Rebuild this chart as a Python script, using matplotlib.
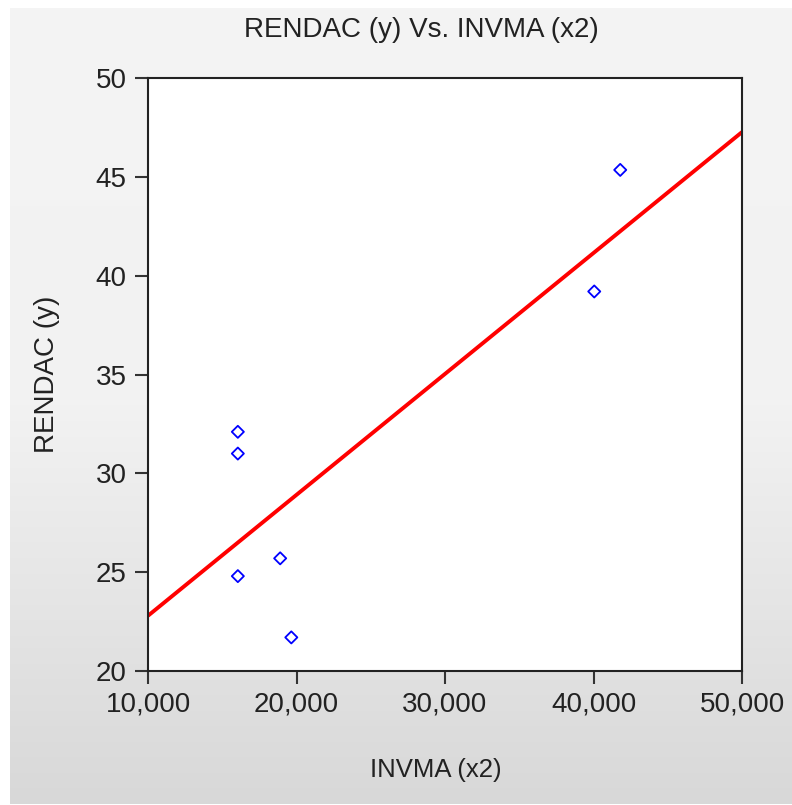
import numpy as np
import matplotlib
matplotlib.use("Agg")
import matplotlib.pyplot as plt
from matplotlib.ticker import FuncFormatter
from matplotlib.colors import LinearSegmentedColormap

plt.rcParams['font.family'] = ['Liberation Sans', 'DejaVu Sans']

# Data
invma_x2 = [16050, 16050, 16050, 18900, 19650, 40050, 41800]
rendac_y = [32.1, 31.0, 24.8, 25.7, 21.7, 39.2, 45.35]
x_ticks = [10000, 20000, 30000, 40000, 50000]
y_ticks = [20, 25, 30, 35, 40, 45, 50]
title = "RENDAC (y) Vs. INVMA (x2)"
x_label = "INVMA (x2)"
y_label = "RENDAC (y)"

W, H = 792, 805
fig = plt.figure(figsize=(W / 100, H / 100), dpi=100)
fig.patch.set_facecolor('white')

# gradient background panel
bg = fig.add_axes([10 / W, 1 / H, 1 - 10 / W, 1 - 9 / H], zorder=-10)
grad = np.linspace(0, 1, 256).reshape(-1, 1)
cmap = LinearSegmentedColormap.from_list('g', ['#f4f4f4', '#f2f2f2', '#d8d8d8'])
bg.imshow(grad, aspect='auto', cmap=cmap, extent=[0, 1, 0, 1], origin='upper')
bg.set_axis_off()

left, right, top, bottom = 148, 742, 78, 671
ax = fig.add_axes([left / W, 1 - bottom / H, (right - left) / W, (bottom - top) / H])
ax.set_facecolor('white')

# regression line
coef = np.polyfit(invma_x2, rendac_y, 1)
xl = np.array([x_ticks[0], x_ticks[-1]])
ax.plot(xl, np.polyval(coef, xl), color='#ff0000', lw=2.8, solid_capstyle='butt', zorder=2)

ax.scatter(invma_x2, rendac_y, marker='D', s=38, facecolors='none',
           edgecolors='#0000ff', linewidths=1.3, zorder=3)

ax.set_xlim(x_ticks[0], x_ticks[-1])
ax.set_ylim(y_ticks[0], y_ticks[-1])
ax.set_xticks(x_ticks)
ax.set_yticks(y_ticks)
ax.xaxis.set_major_formatter(FuncFormatter(lambda v, p: f"{int(v):,}"))
ax.tick_params(axis='both', direction='out', length=9.5, width=1.5, color='#333333',
               labelsize=20, labelcolor='#222222')
ax.tick_params(axis='y', pad=6)
ax.tick_params(axis='x', pad=5)
for s in ax.spines.values():
    s.set_linewidth(1.5)
    s.set_color('#222222')

fig.text(421 / W, 1 - 30 / H, title, ha='center', va='center',
         fontsize=20, color='#222222')
fig.text(436 / W, 1 - 770 / H, x_label, ha='center', va='center',
         fontsize=18.5, color='#222222')
fig.text(47 / W, 1 - (top + bottom) / 2 / H, y_label, ha='center', va='center',
         rotation=90, fontsize=20, color='#222222')

fig.savefig('out.png', dpi=100, facecolor=fig.get_facecolor())
